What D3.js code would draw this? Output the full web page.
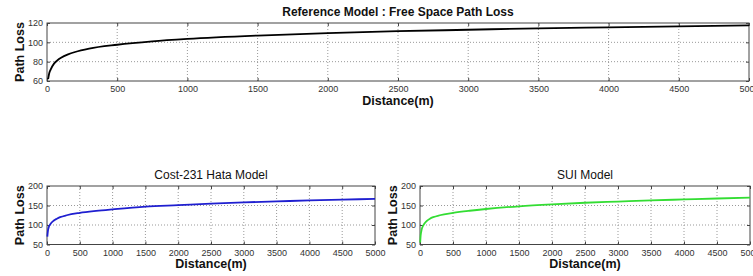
<!DOCTYPE html>
<html>
<head>
<meta charset="utf-8">
<script src="https://cdn.jsdelivr.net/npm/d3@7"></script>
<style>
  body { margin: 0; background: #fff; }
  svg { font-family: "Liberation Sans", Arial, sans-serif; }
  .tick text { fill: #333; font-size: 9px; }
  .grid line { stroke: #999; stroke-dasharray: 1,2; }
  .title { font-size: 12px; fill: #111; }
  .axis-label { font-size: 12.5px; font-weight: bold; fill: #111; }
</style>
</head>
<body>
<svg id="chart" width="753" height="276"></svg>
<script>
// distances (m) and path loss (dB)
const fsDistance = [8, 15, 25, 50, 75, 100, 150, 200, 300, 500, 750, 1000, 1500, 2000, 2500, 3000, 3500, 4000, 4500, 5000];
const fsLoss = [62, 67.5, 71.5, 78, 81.5, 84, 87.5, 90, 93.5, 97.5, 101, 103.5, 107, 109.5, 111.5, 113, 114.5, 115.5, 116.5, 117.5];

const hataDistance = [5, 15, 30, 50, 100, 150, 200, 300, 500, 750, 1000, 1500, 2000, 2500, 3000, 3500, 4000, 4500, 5000];
const hataLoss = [70, 86, 96, 102, 111, 116, 120, 125, 131, 136, 140, 147, 151, 155, 158, 160.5, 163, 165, 167];

const suiDistance = [3, 10, 25, 50, 100, 150, 200, 300, 500, 750, 1000, 1500, 2000, 2500, 3000, 3500, 4000, 4500, 5000];
const suiLoss = [55, 73, 88, 99, 110, 116, 120, 125, 131, 136.5, 141, 148, 153, 157, 160, 163, 165.5, 168, 170];

const distanceTicks = [0, 500, 1000, 1500, 2000, 2500, 3000, 3500, 4000, 4500, 5000];
const fsTicks = [60, 80, 100, 120];
const modelTicks = [50, 100, 150, 200];

const panels = [
  { title: "Reference Model : Free Space Path Loss", bold: true, x: fsDistance, y: fsLoss,
    yDomain: [60, 120], yTicks: fsTicks, color: "#000",
    left: 47, right: 749, top: 23, bottom: 81, ylabX: 20, titleY: 16, xlabY: 105 },
  { title: "Cost-231 Hata Model", bold: false, x: hataDistance, y: hataLoss,
    yDomain: [50, 200], yTicks: modelTicks, color: "#1f1fd0",
    left: 47, right: 375, top: 186, bottom: 244.5, ylabX: 20, titleY: 179, xlabY: 268 },
  { title: "SUI Model", bold: false, x: suiDistance, y: suiLoss,
    yDomain: [50, 200], yTicks: modelTicks, color: "#33dd33",
    left: 420, right: 750, top: 186, bottom: 244.5, ylabX: 393, titleY: 179, xlabY: 268 }
];

const svg = d3.select("#chart");

panels.forEach(p => {
  const w = p.right - p.left, h = p.bottom - p.top;
  const x = d3.scaleLinear().domain([0, 5000]).range([0, w]);
  const y = d3.scaleLinear().domain(p.yDomain).range([h, 0]);

  const g = svg.append("g")
    .attr("transform", "translate(" + p.left + "," + p.top + ")");

  // dotted grid
  g.append("g").attr("class", "grid")
    .selectAll("line").data(distanceTicks.slice(1, -1)).enter().append("line")
    .attr("x1", d => x(d)).attr("x2", d => x(d)).attr("y1", 0).attr("y2", h);
  g.append("g").attr("class", "grid")
    .selectAll("line").data(p.yTicks.slice(1, -1)).enter().append("line")
    .attr("x1", 0).attr("x2", w).attr("y1", d => y(d)).attr("y2", d => y(d));

  // box
  g.append("rect").attr("width", w).attr("height", h)
    .attr("fill", "none").attr("stroke", "#444").attr("stroke-width", 1);

  // axes, ticks inward like matlab
  g.append("g").attr("transform", "translate(0," + h + ")")
    .call(d3.axisBottom(x).tickValues(distanceTicks).tickFormat(d3.format("d"))
      .tickSizeInner(-3).tickSizeOuter(0).tickPadding(5));
  g.append("g")
    .call(d3.axisLeft(y).tickValues(p.yTicks).tickSizeInner(-3).tickSizeOuter(0).tickPadding(4));
  g.append("g")
    .call(d3.axisTop(x).tickValues(distanceTicks).tickSizeInner(-3).tickSizeOuter(0).tickFormat(""));
  g.append("g").attr("transform", "translate(" + w + ",0)")
    .call(d3.axisRight(y).tickValues(p.yTicks).tickSizeInner(-3).tickSizeOuter(0).tickFormat(""));
  g.selectAll(".domain").remove();
  g.selectAll(".tick line").attr("stroke", "#444");

  // data line
  const pts = p.x.map((d, i) => [d, p.y[i]]);
  g.append("path").datum(pts)
    .attr("fill", "none").attr("stroke", p.color).attr("stroke-width", 1.8)
    .attr("d", d3.line().x(d => x(d[0])).y(d => y(d[1])).curve(d3.curveMonotoneX));

  // labels
  svg.append("text").attr("class", "title")
    .attr("x", p.left + w / 2).attr("y", p.titleY)
    .attr("text-anchor", "middle")
    .style("font-weight", p.bold ? "bold" : "normal")
    .text(p.title);
  svg.append("text").attr("class", "axis-label")
    .attr("x", p.left + w / 2).attr("y", p.xlabY)
    .attr("text-anchor", "middle")
    .text("Distance(m)");
  svg.append("text").attr("class", "axis-label")
    .attr("transform", "translate(" + (p.ylabX + 4) + "," + (p.top + h / 2) + ") rotate(-90)")
    .attr("text-anchor", "middle")
    .text("Path Loss");
});
</script>
</body>
</html>
